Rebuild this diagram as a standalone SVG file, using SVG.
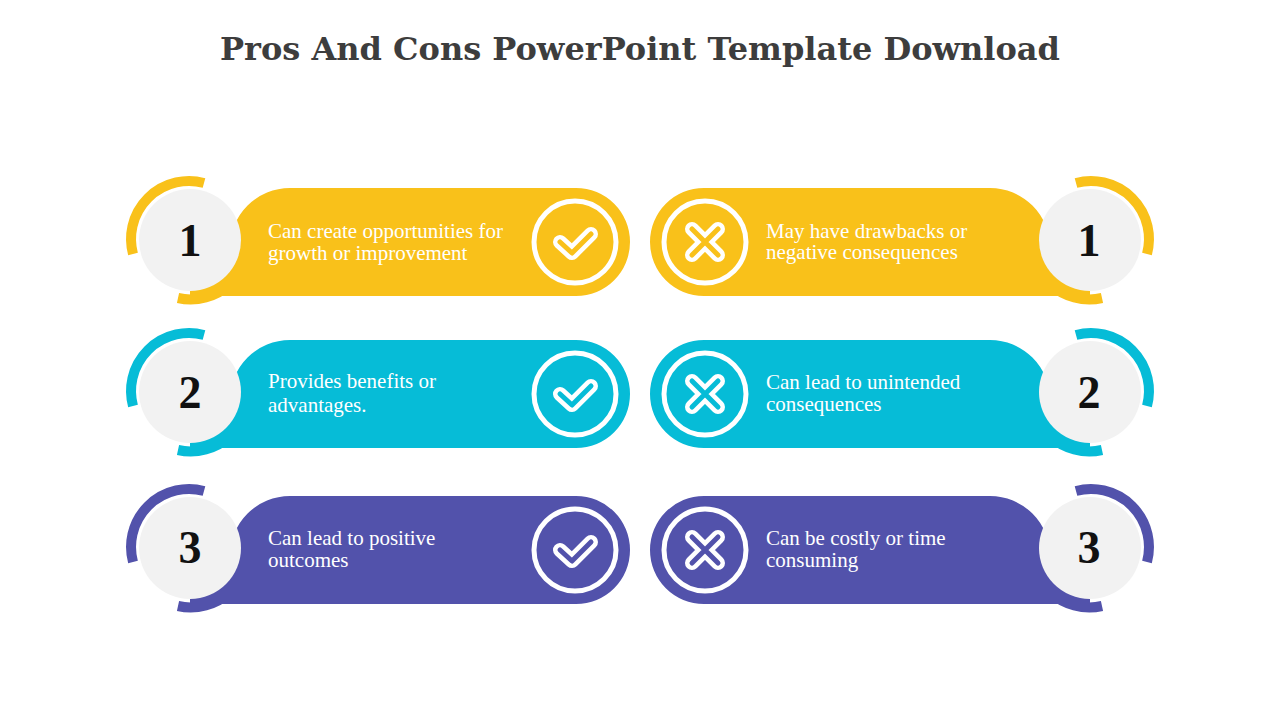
<svg xmlns="http://www.w3.org/2000/svg" xmlns:xlink="http://www.w3.org/1999/xlink" width="1280" height="720" viewBox="0 0 1280 720">
<style>
.t{font-family:"Liberation Serif",serif;font-size:21px;fill:#fff}
.n{font-family:"Liberation Serif",serif;font-size:46px;font-weight:bold;fill:#111;text-anchor:middle}
.ring{fill:none;stroke-width:10}
.ic{fill:none;stroke:#fff;stroke-width:5}
</style>
<defs>
<g id="shape">
<path d="M-57,14 A58,58 0 0 1 14,-57" class="ring"/>
<path d="M-12,58 A58,58 0 0 0 40,44" class="ring"/>
<path d="M0,56 V8 H40 A60,60 0 0 1 100,-52 H386 A54,54 0 0 1 386,56 Z" stroke="none"/>
<circle r="51" fill="#F2F2F2" stroke="none"/>
<circle cx="385" cy="2" r="41" class="ic"/>
</g>
<path id="chk" d="M-15,0 L-3,11 L16,-8" fill="none" stroke-linecap="round" stroke-linejoin="round"/>
<path id="crs" d="M-13,-13 L13,13 M13,-13 L-13,13" fill="none" stroke-linecap="round"/>
</defs>
<rect width="1280" height="720" fill="#fff"/>
<text x="640" y="60" text-anchor="middle" style="font-family:'DejaVu Serif','Liberation Serif',serif;font-size:32px;font-weight:bold;fill:#3d3d3d">Pros And Cons PowerPoint Template Download</text>
<g id="pro1" fill="#F9C11A" stroke="#F9C11A"><g transform="translate(190,240)"><use xlink:href="#shape"/></g></g>
<g id="pro2" fill="#06BCD7" stroke="#06BCD7"><g transform="translate(190,392)"><use xlink:href="#shape"/></g></g>
<g id="pro3" fill="#5252AB" stroke="#5252AB"><g transform="translate(190,548)"><use xlink:href="#shape"/></g></g>
<g id="con1" fill="#F9C11A" stroke="#F9C11A"><g transform="translate(1090,240) scale(-1,1)"><use xlink:href="#shape"/></g></g>
<g id="con2" fill="#06BCD7" stroke="#06BCD7"><g transform="translate(1090,392) scale(-1,1)"><use xlink:href="#shape"/></g></g>
<g id="con3" fill="#5252AB" stroke="#5252AB"><g transform="translate(1090,548) scale(-1,1)"><use xlink:href="#shape"/></g></g>
<g id="icons">
<g transform="translate(575,242)"><use xlink:href="#chk" stroke="#fff" stroke-width="14"/><use xlink:href="#chk" stroke="#F9C11A" stroke-width="5"/></g>
<g transform="translate(575,394)"><use xlink:href="#chk" stroke="#fff" stroke-width="14"/><use xlink:href="#chk" stroke="#06BCD7" stroke-width="5"/></g>
<g transform="translate(575,550)"><use xlink:href="#chk" stroke="#fff" stroke-width="14"/><use xlink:href="#chk" stroke="#5252AB" stroke-width="5"/></g>
<g transform="translate(705,242)"><use xlink:href="#crs" stroke="#fff" stroke-width="14"/><use xlink:href="#crs" stroke="#F9C11A" stroke-width="5"/></g>
<g transform="translate(705,394)"><use xlink:href="#crs" stroke="#fff" stroke-width="14"/><use xlink:href="#crs" stroke="#06BCD7" stroke-width="5"/></g>
<g transform="translate(705,550)"><use xlink:href="#crs" stroke="#fff" stroke-width="14"/><use xlink:href="#crs" stroke="#5252AB" stroke-width="5"/></g>
</g>
<g id="numbers">
<text class="n" x="190" y="256">1</text><text class="n" x="190" y="408">2</text><text class="n" x="190" y="563">3</text>
<text class="n" x="1089" y="256">1</text><text class="n" x="1089" y="408">2</text><text class="n" x="1089" y="563">3</text>
</g>
<g id="texts">
<text class="t" x="268" y="238">Can create opportunities for</text><text class="t" x="268" y="260">growth or improvement</text>
<text class="t" x="268" y="388">Provides benefits or</text><text class="t" x="268" y="412">advantages.</text>
<text class="t" x="268" y="545">Can lead to positive</text><text class="t" x="268" y="567">outcomes</text>
<text class="t" x="766" y="238">May have drawbacks or</text><text class="t" x="766" y="259">negative consequences</text>
<text class="t" x="766" y="389">Can lead to unintended</text><text class="t" x="766" y="411">consequences</text>
<text class="t" x="766" y="545">Can be costly or time</text><text class="t" x="766" y="567">consuming</text>
</g>
</svg>
